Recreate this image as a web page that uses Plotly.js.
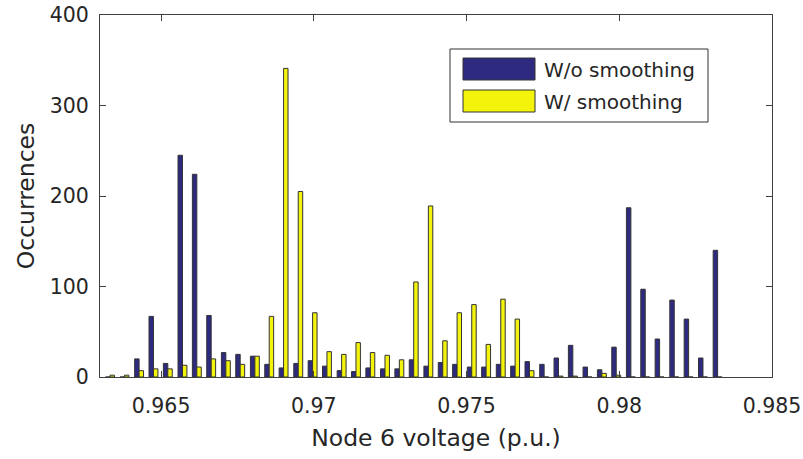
<!DOCTYPE html>
<html>
<head>
<meta charset="utf-8">
<script src="https://cdn.plot.ly/plotly-3.0.1.min.js"></script>
<style>
html,body{margin:0;padding:0;background:#fff;}
#chart{width:803px;height:459px;}
</style>
</head>
<body>
<div id="chart"></div>
<script>
// Bin centres (Node 6 voltage, p.u.)
var binCenters = [0.96333,0.96380,0.96428,0.96475,0.96522,0.96570,0.96617,0.96664,0.96712,0.96759,
  0.96807,0.96854,0.96901,0.96949,0.96996,0.97043,0.97091,0.97138,0.97185,0.97233,
  0.97280,0.97327,0.97375,0.97422,0.97469,0.97517,0.97564,0.97612,0.97659,0.97706,
  0.97754,0.97801,0.97848,0.97896,0.97943,0.97990,0.98038,0.98085,0.98132,0.98180,
  0.98227,0.98274,0.98322];
// Occurrences without smoothing
var withoutSmoothing = [0,0,20,67,15,245,224,68,27,25,
  23,14,10,15,18,12,7,6,10,9,
  9,19,12,16,14,11,11,14,12,17,
  14,21,35,11,8,33,187,97,42,85,
  64,21,140];
// Occurrences with smoothing
var withSmoothing = [2,2,7,9,9,13,11,20,18,14,
  23,67,341,205,71,28,25,38,27,24,
  19,105,189,40,71,80,36,86,64,7,
  0,1,1,0,4,2,0,0,0,0,
  0,0,0];
var seriesNames = ['W/o smoothing','W/ smoothing'];
var xTickVals = [0.965,0.97,0.975,0.98,0.985];
var xTickText = ['0.965','0.97','0.975','0.98','0.985'];
var yTickVals = [0,100,200,300,400];

var navy = '#2d2a80', yellow = '#f3f30c', edge = '#333333';
var FONT = 'DejaVu Sans, Verdana, sans-serif';
var TXT = '#262626';

var traces = [
  {type:'bar', x:binCenters, y:withoutSmoothing, name:seriesNames[0],
   marker:{color:navy, line:{color:edge, width:1}}},
  {type:'bar', x:binCenters, y:withSmoothing, name:seriesNames[1],
   marker:{color:yellow, line:{color:edge, width:1}}}
];

// plot area in pixels
var L=100, R=772, T=15, B=377;
function px(x){return (x-L)/(R-L);}
function py(y){return (B-y)/(B-T);}

var shapes = [
  {type:'rect', xref:'paper', yref:'paper', x0:px(450), x1:px(708), y0:py(122), y1:py(49),
   line:{color:'#333', width:1}, fillcolor:'#ffffff', layer:'above'},
  {type:'rect', xref:'paper', yref:'paper', x0:px(463), x1:px(535), y0:py(80), y1:py(58),
   line:{color:edge, width:1}, fillcolor:navy, layer:'above'},
  {type:'rect', xref:'paper', yref:'paper', x0:px(463), x1:px(535), y0:py(112), y1:py(90),
   line:{color:edge, width:1}, fillcolor:yellow, layer:'above'}
];
var annotations = [
  {xref:'paper', yref:'paper', x:px(542), y:py(70), xanchor:'left', yanchor:'middle',
   text:seriesNames[0], showarrow:false, font:{family:FONT, size:20, color:TXT}},
  {xref:'paper', yref:'paper', x:px(542), y:py(102), xanchor:'left', yanchor:'middle',
   text:seriesNames[1], showarrow:false, font:{family:FONT, size:20, color:TXT}}
];

var axCommon = {
  showgrid:false, zeroline:false, showline:true, linecolor:'#404040', linewidth:1,
  mirror:'ticks', ticks:'inside', ticklen:6, tickcolor:'#404040', tickwidth:1,
  tickfont:{family:FONT, size:20.5, color:TXT}
};

var layout = {
  width:803, height:459,
  margin:{l:L, r:803-R, t:T, b:459-B, pad:0},
  paper_bgcolor:'#ffffff', plot_bgcolor:'#ffffff',
  barmode:'group', bargap:0.38, bargroupgap:0,
  showlegend:false,
  xaxis: Object.assign({}, axCommon, {
    range:[0.963,0.985], tickmode:'array', tickvals:xTickVals, ticktext:xTickText,
    ticklabelstandoff:10,
    title:{text:'Node 6 voltage (p.u.)', font:{family:FONT, size:23.5, color:TXT}, standoff:12}
  }),
  yaxis: Object.assign({}, axCommon, {
    range:[0,400], tickmode:'array', tickvals:yTickVals,
    ticklabelstandoff:6,
    title:{text:'Occurrences', font:{family:FONT, size:23.5, color:TXT}, standoff:8}
  }),
  shapes:shapes, annotations:annotations
};

Plotly.newPlot('chart', traces, layout, {staticPlot:true, displayModeBar:false});
</script>
</body>
</html>
